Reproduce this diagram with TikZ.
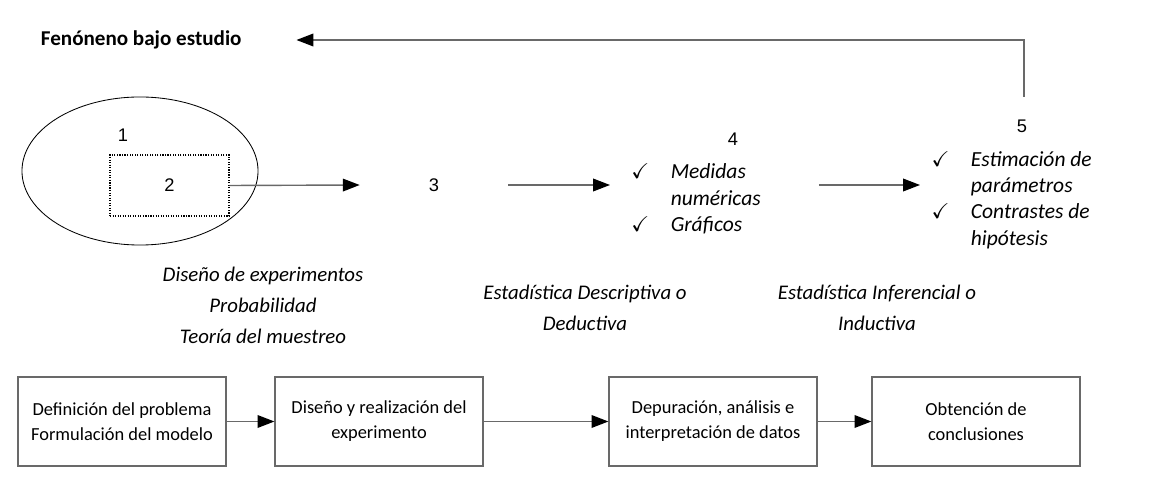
\documentclass[tikz,border=0pt]{standalone}
\usepackage{amssymb}
\usepackage{fontspec}
\setmainfont{Carlito}
\newfontfamily\numfont{Liberation Sans}
\usetikzlibrary{shapes,%
                arrows.meta}

\definecolor{gris}{RGB}{105,105,105}
\newcommand{\chk}{\makebox[28pt][l]{$\checkmark$}}
\newcommand{\sangria}{\hspace*{28pt}}

\begin{document}
\begin{tikzpicture}[x=0.025cm,y=-0.025cm]

  \tikzstyle{linea}=[draw=gris, line width=1pt]
  \tikzstyle{flecha}=[linea, -{Triangle[length=12pt,width=9pt,color=black]}]
  \tikzstyle{numero}=[font=\numfont\fontsize{13}{15}\selectfont]
  \tikzstyle{rama}=[font=\itshape\fontsize{14.8}{22}\selectfont, align=center]
  \tikzstyle{lista}=[font=\itshape\fontsize{15.3}{18.8}\selectfont, align=flush left, anchor=west, inner ysep=0pt]
  \tikzstyle{caja}=[draw=gris, line width=0.8pt, minimum width=5.2cm, minimum height=2.225cm,
                    font=\fontsize{13.1}{17.8}\selectfont, align=center]

  \useasboundingbox (0,0) rectangle (1167,491);

  % fenomeno y retroalimentacion
  \node[font=\bfseries\fontsize{15}{17}\selectfont, anchor=west] (fen) at (36,40) {Fenóneno bajo estudio};
  \coordinate (ret) at (1024,97);

  % poblacion y muestra
  \node[ellipse, draw, line width=0.6pt, minimum width=5.9cm, minimum height=3.7cm] (pob) at (140,171) {};
  \node[numero] (uno) at (123,135) {1};
  \node[draw, densely dotted, line width=0.8pt, minimum width=2.975cm, minimum height=1.525cm,
        numero] (muestra) at (169.5,185.5) {2};

  \node[numero, minimum width=3.7cm] (tres) at (434,185) {3};
  \node[numero] (cuatro) at (733,139) {4};
  \node[numero] (cinco) at (1022,126) {5};

  \node[lista, inner xsep=15pt, text width=4.15cm] (med) at (610,199)
    {\chk Medidas\\ \sangria numéricas\\ \chk Gráficos};
  \node[lista, inner xsep=8pt, text width=4.6cm] (est) at (920,200)
    {\chk Estimación de\\ \sangria parámetros\\ \chk Contrastes de\\ \sangria hipótesis};

  % ramas de la estadistica
  \node[rama] (disexp) at (263,305) {Diseño de experimentos\\ Probabilidad\\ Teoría del muestreo};
  \node[rama] (desc) at (585,307.5) {Estadística Descriptiva o\\ Deductiva};
  \node[rama] (inf) at (877,307.5) {Estadística Inferencial o\\ Inductiva};

  % etapas
  \node[caja] (def) at (122,421.5) {Definición del problema\\ Formulación del modelo};
  \node[caja] (dis) at (379,421.5) {Diseño y realización del\\ experimento};
  \node[caja] (dep) at (713,421.5) {Depuración, análisis e\\ interpretación de datos};
  \node[caja] (obt) at (976,421.5) {Obtención de\\ conclusiones};

  \draw[flecha] (muestra.east) -- (tres.west);
  \draw[flecha] (tres.east) -- (tres.east -| med.west);
  \draw[flecha] (med.east |- tres.east) -- (est.west |- tres.east);
  \draw[flecha] (ret) |- ([xshift=1.25cm]fen.east);

  \draw[flecha] (def) -- (dis);
  \draw[flecha] (dis) -- (dep);
  \draw[flecha] (dep) -- (obt);
\end{tikzpicture}
\end{document}
